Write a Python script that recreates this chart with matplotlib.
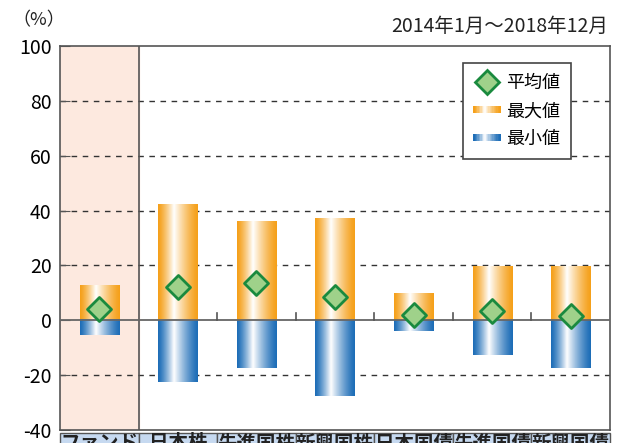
import numpy as np
import matplotlib
matplotlib.use("Agg")
import matplotlib.pyplot as plt
from matplotlib.patches import Rectangle
from matplotlib.lines import Line2D
from matplotlib.legend_handler import HandlerBase
from matplotlib.colors import to_rgb

plt.rcParams['font.family'] = ['Noto Sans CJK JP', 'DejaVu Sans']

categories = ['ファンド', '日本株', '先進国株', '新興国株', '日本国債', '先進国債', '新興国債']
max_vals = [12.5, 42, 36, 37, 9.5, 19.5, 19.5]
min_vals = [-5.5, -22.5, -17.5, -27.5, -4, -12.5, -17.5]
avg_vals = [4, 12, 13.5, 8.5, 2, 3.5, 1.5]
yticks = [-40, -20, 0, 20, 40, 60, 80, 100]

ORANGE = '#f5a01a'
BLUE = '#1d6db7'


def gradient(color, n=64):
    c = np.array(to_rgb(color))
    t = np.linspace(0, 1, n)
    w = np.where(t < 0.4, t / 0.4, 1 - (t - 0.4) / 0.6)
    w = np.clip(w, 0, 1) ** 1.3
    return c[None, :] * (1 - w[:, None]) + np.ones(3)[None, :] * w[:, None]


class GradHandler(HandlerBase):
    def __init__(self, color):
        super().__init__()
        self.color = color

    def create_artists(self, legend, orig_handle, xdescent, ydescent,
                       width, height, fontsize, trans):
        cols = gradient(self.color, 20)
        h = height * 0.55
        y0 = -ydescent + (height - h) / 2
        arts = []
        for i, col in enumerate(cols):
            arts.append(Rectangle((-xdescent + width * i / 20, y0), width / 20 + 0.3, h,
                                  facecolor=col, edgecolor='none', transform=trans))
        return arts


fig = plt.figure(figsize=(6.23, 4.43), dpi=100)
ax = fig.add_axes([60 / 623, 13 / 443, 550 / 623, 384 / 443])

n = len(categories)
x = np.arange(n)
bw = 0.5

# pink fund column
ax.axvspan(-0.5, 0.5, color='#fde9df', zorder=0)
ax.axvline(0.5, color='#555555', lw=1.2, zorder=3)

for gy in [20, 40, 60, 80, -20]:
    ax.axhline(gy, color='#333333', lw=1, ls=(0, (4, 4)), zorder=1)

og = gradient(ORANGE)[None, :, :]
bg = gradient(BLUE)[None, :, :]
for i in range(n):
    ax.imshow(og, extent=[x[i] - bw / 2, x[i] + bw / 2, 0, max_vals[i]],
              aspect='auto', zorder=2, interpolation='bilinear')
    ax.imshow(bg, extent=[x[i] - bw / 2, x[i] + bw / 2, min_vals[i], 0],
              aspect='auto', zorder=2, interpolation='bilinear')

ax.axhline(0, color='#666666', lw=1.3, zorder=3)
for b in x[1:-1] + 0.5:
    ax.plot([b, b], [0, 2.6], color='#555555', lw=1.2, zorder=3)

ax.scatter(x, avg_vals, marker='D', s=150, facecolor='#9fd18a',
           edgecolor='#1a8a3e', linewidth=2, zorder=4)

ax.set_xlim(-0.5, n - 0.5)
ax.set_ylim(-40, 100)
ax.set_yticks(yticks)
ax.set_yticklabels([str(v) for v in yticks], fontsize=14)
ax.tick_params(axis='y', direction='in', length=7, color='#555555', pad=6)
ax.set_xticks([])
for s in ax.spines.values():
    s.set_color('#555555')
    s.set_linewidth(1.2)

# category row (cut off by figure edge, as in the original)
for i, c in enumerate(categories):
    ax.add_patch(Rectangle((i - 0.5, -46), 1, 5, facecolor='#c6d9f0',
                           edgecolor='#555555', lw=1, clip_on=False, zorder=1))
    ax.text(i, -41.6, c, ha='center', va='top', fontsize=14, fontweight='bold',
            color='#222222', clip_on=False)

handles = [Line2D([], [], marker='D', ls='none', markersize=12,
                  markerfacecolor='#9fd18a', markeredgecolor='#1a8a3e', markeredgewidth=2),
           Rectangle((0, 0), 1, 1), Rectangle((0, 0), 1, 1)]
h1, h2 = handles[1], handles[2]
leg = ax.legend(handles, ['平均値', '最大値', '最小値'], loc='upper right',
                bbox_to_anchor=(0.945, 0.978), fontsize=13, fancybox=False,
                framealpha=1, edgecolor='#444444', handlelength=1.5,
                handletextpad=0.3, labelspacing=0.55, borderpad=0.6,
                handler_map={h1: GradHandler(ORANGE), h2: GradHandler(BLUE)})
leg.get_frame().set_linewidth(1.2)
leg.set_zorder(5)

fig.text(12 / 623, 1 - 20 / 443, '（%）', fontsize=13, va='center', ha='left', color='#222222')
fig.text(608 / 623, 1 - 26 / 443, '2014年1月～2018年12月', fontsize=14,
         va='center', ha='right', color='#222222')

fig.savefig('out.png', dpi=100)
